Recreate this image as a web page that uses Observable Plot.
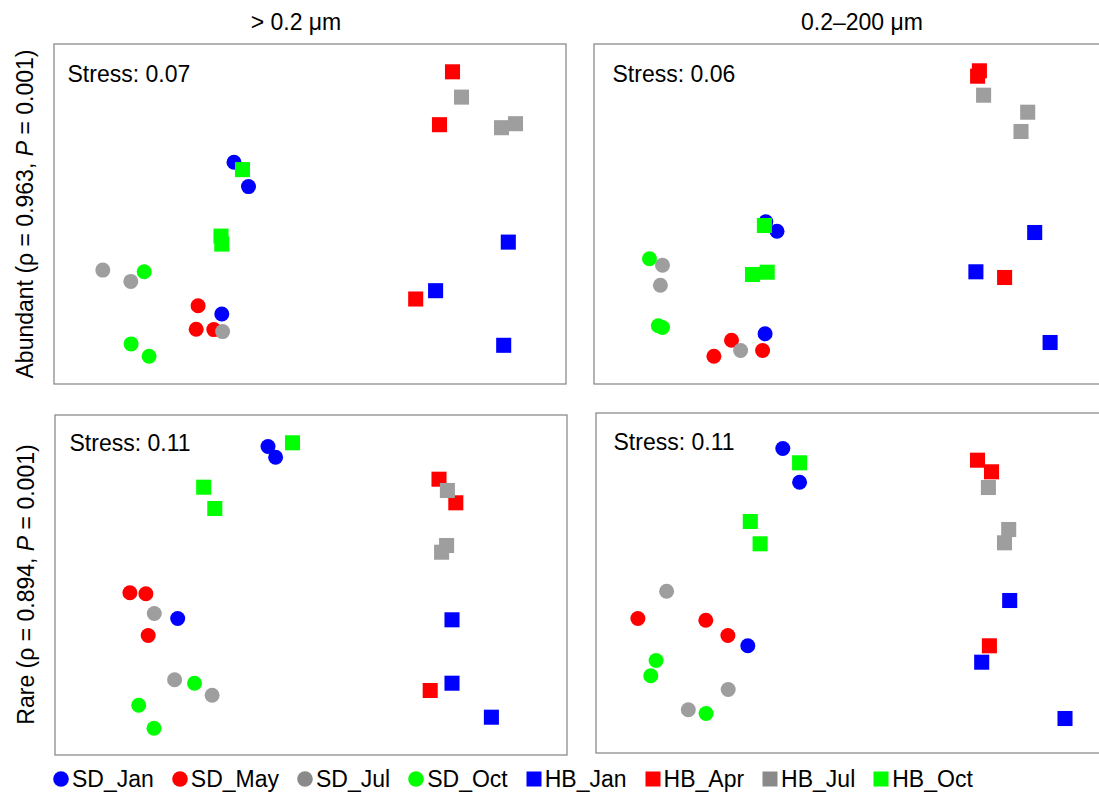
<!DOCTYPE html>
<html><head><meta charset="utf-8">
<script src="https://cdn.jsdelivr.net/npm/d3@7"></script>
<script src="https://cdn.jsdelivr.net/npm/@observablehq/plot@0.6"></script>
<style>
html,body{margin:0;padding:0;background:#fff;overflow:hidden}
#root{position:relative;width:1099px;height:794px;overflow:hidden;font-family:Arial,"Liberation Sans",sans-serif;color:#000;background:#fff}
.panel{position:absolute;width:513px;height:341px}
.panel svg{display:block;overflow:visible;max-width:none !important;width:513px;height:341px}
#overlay{position:absolute;left:0;top:0}
#legend{position:absolute;left:53px;top:767px;display:flex;gap:18px;font-size:23px;line-height:24px;white-space:nowrap}
#legend .item{display:flex;align-items:center;gap:3px}
#legend svg{display:block}
</style></head><body><div id="root"></div>
<script>
// ---- data ----
const groups = ["SD_Jan","SD_May","SD_Jul","SD_Oct","HB_Jan","HB_Apr","HB_Jul","HB_Oct"];
const groupColors = ["#0000ff","#ff0000","#9e9e9e","#00ff00","#0000ff","#ff0000","#9e9e9e","#00ff00"];
const legendColors = ["#0000ff","#ff0000","#8a8a8a","#00ff00","#0000ff","#ff0000","#8a8a8a","#00ff00"];
const columnTitles = ["> 0.2 μm", "0.2–200 μm"];
const rowNames = ["Abundant", "Rare"];
const rowRho = ["0.963", "0.894"];
const rowP = ["0.001", "0.001"];
const stressValues = ["0.07", "0.06", "0.11", "0.11"];

// [group, NMDS1, NMDS2] (panel units)
const abundantFL = [
  ["SD_Jan",180.5,222.2],["SD_Jan",195,197.9],["SD_Jan",168.3,70.5],
  ["SD_May",144.6,78.8],["SD_May",142.7,55.2],["SD_May",160.3,54.9],
  ["SD_Jul",49.3,114.4],["SD_Jul",77.3,103.1],["SD_Jul",169.1,52.9],
  ["SD_Oct",90.7,112.8],["SD_Oct",77.6,40.6],["SD_Oct",95.6,28.3],
  ["HB_Jan",454.8,142.4],["HB_Jan",382.1,93.8],["HB_Jan",450.2,39.2],
  ["HB_Apr",399,312.7],["HB_Apr",386,259.8],["HB_Apr",362.2,85.5],
  ["HB_Jul",408,287.4],["HB_Jul",448,256.8],["HB_Jul",462,260.8],
  ["HB_Oct",189,214.9],["HB_Oct",167.5,148.4],["HB_Oct",168.3,140.4]
];
const abundantPA = [
  ["SD_Jan",172.3,162.7],["SD_Jan",183.5,153.3],["SD_Jan",171.6,50.7],
  ["SD_May",138,44.3],["SD_May",169.1,34],["SD_May",120.4,28.3],
  ["SD_Jul",69,119.3],["SD_Jul",66.9,99.3],["SD_Jul",147.1,34],
  ["SD_Oct",56,125.7],["SD_Oct",64.8,58.7],["SD_Oct",69,57],
  ["HB_Jan",441.2,152],["HB_Jan",382.4,112.7],["HB_Jan",456.6,42],
  ["HB_Apr",385.9,313.7],["HB_Apr",384.1,308.3],["HB_Apr",411.1,107],
  ["HB_Jul",390.1,289.3],["HB_Jul",434.2,272.3],["HB_Jul",427.5,253],
  ["HB_Oct",170.9,159],["HB_Oct",159,110],["HB_Oct",173.7,112.3]
];
const rareFL = [
  ["SD_Jan",213.5,309],["SD_Jan",221.1,298.3],["SD_Jan",123.2,137],
  ["SD_May",75.4,162.7],["SD_May",91.4,161.7],["SD_May",93.7,120],
  ["SD_Jul",99.8,142],["SD_Jul",120.1,75.7],["SD_Jul",157.6,60.3],
  ["SD_Oct",140,72.3],["SD_Oct",84.2,50.3],["SD_Oct",99.5,27.3],
  ["HB_Jan",397.5,135.7],["HB_Jan",397.5,72.3],["HB_Jan",436.9,38.3],
  ["HB_Apr",384.5,276.3],["HB_Apr",401.3,252.7],["HB_Apr",375.7,65],
  ["HB_Jul",392.9,265],["HB_Jul",392.1,210],["HB_Jul",387.1,203.3],
  ["HB_Oct",238,312.7],["HB_Oct",149.2,268.3],["HB_Oct",160.3,247]
];
const rarePA = [
  ["SD_Jan",187.3,305],["SD_Jan",204.1,271.3],["SD_Jan",152.3,107.7],
  ["SD_May",42.4,135],["SD_May",110.3,133.3],["SD_May",132.4,118],
  ["SD_Jul",71.1,162.3],["SD_Jul",132.7,64],["SD_Jul",92.8,43.7],
  ["SD_Oct",60.6,93],["SD_Oct",55.3,77.7],["SD_Oct",110.6,40],
  ["HB_Jan",414.2,153],["HB_Jan",386.2,91.3],["HB_Jan",469.5,35],
  ["HB_Apr",382,293.3],["HB_Apr",396,281.7],["HB_Apr",393.9,107.7],
  ["HB_Jul",392.9,266],["HB_Jul",413.2,224],["HB_Jul",409,210.7],
  ["HB_Oct",204.1,290.7],["HB_Oct",154.8,232],["HB_Oct",164.6,209.7]
];

// ---- layout ----
const FONT = 'Arial, "Liberation Sans", sans-serif';
const PW = 513, PH = 341;
const root = document.getElementById("root");

function makePanel(data, stress, left, top, textDx, textDy) {
  const sorted = data.slice().sort((a, b) => groups.indexOf(a[0]) - groups.indexOf(b[0]));
  const circles = sorted.filter(d => d[0].startsWith("SD"));
  const squares = sorted.filter(d => d[0].startsWith("HB"));
  const chart = Plot.plot({
    width: PW, height: PH, margin: 0,
    style: {fontFamily: FONT, background: "transparent", overflow: "visible", maxWidth: "none"},
    x: {domain: [0, PW], axis: null},
    y: {domain: [0, PH], axis: null},
    color: {domain: groups, range: groupColors},
    marks: [
      Plot.frame({stroke: "#8c8c8c", strokeWidth: 1.3, inset: 0.5}),
      Plot.dot(circles, {x: d => d[1], y: d => d[2], fill: d => d[0], r: 7.5, stroke: "none"}),
      Plot.dot(squares, {x: d => d[1], y: d => d[2], fill: d => d[0], symbol: "square", r: 8.5, stroke: "none"}),
      Plot.text([`Stress: ${stress}`], {text: d => d, frameAnchor: "top-left", textAnchor: "start", lineAnchor: "top", dx: textDx, dy: textDy, fontSize: 23, fill: "#000"})
    ]
  });
  const div = document.createElement("div");
  div.className = "panel";
  div.style.left = left + "px";
  div.style.top = top + "px";
  div.appendChild(chart);
  root.appendChild(div);
}

makePanel(abundantFL, stressValues[0], 52.5, 43, 14, 22);
makePanel(abundantPA, stressValues[1], 593, 43, 19, 22);
makePanel(rareFL, stressValues[2], 53.5, 414, 15, 20);
makePanel(rarePA, stressValues[3], 595, 412, 18, 21);

// headers & row labels
const ns = "http://www.w3.org/2000/svg";
const ov = document.createElementNS(ns, "svg");
ov.setAttribute("id", "overlay");
ov.setAttribute("width", 1099);
ov.setAttribute("height", 794);
ov.style.fontFamily = FONT;
const headerX = [296, 862];
columnTitles.forEach((t, i) => {
  const el = document.createElementNS(ns, "text");
  el.setAttribute("x", headerX[i]);
  el.setAttribute("y", 29.5);
  el.setAttribute("text-anchor", "middle");
  el.setAttribute("font-size", 23);
  el.textContent = t;
  ov.appendChild(el);
});
const rowCenter = [[33, 214], [34, 584.5]];
rowNames.forEach((name, i) => {
  const el = document.createElementNS(ns, "text");
  el.setAttribute("transform", `translate(${rowCenter[i][0]},${rowCenter[i][1]}) rotate(-90)`);
  el.setAttribute("text-anchor", "middle");
  el.setAttribute("font-size", 23);
  const a = document.createElementNS(ns, "tspan");
  a.textContent = `${name} (ρ = ${rowRho[i]}, `;
  const p = document.createElementNS(ns, "tspan");
  p.setAttribute("font-style", "italic");
  p.textContent = "P";
  const b = document.createElementNS(ns, "tspan");
  b.textContent = ` = ${rowP[i]})`;
  el.appendChild(a); el.appendChild(p); el.appendChild(b);
  ov.appendChild(el);
});
root.appendChild(ov);

// legend
const legend = document.createElement("div");
legend.id = "legend";
groups.forEach((g, i) => {
  const item = document.createElement("div");
  item.className = "item";
  const s = document.createElementNS(ns, "svg");
  s.setAttribute("width", 16); s.setAttribute("height", 16);
  let shape;
  if (g.startsWith("SD")) {
    shape = document.createElementNS(ns, "circle");
    shape.setAttribute("cx", 8); shape.setAttribute("cy", 8); shape.setAttribute("r", 7.8);
  } else {
    shape = document.createElementNS(ns, "rect");
    shape.setAttribute("x", 0.5); shape.setAttribute("y", 0.5); shape.setAttribute("width", 15); shape.setAttribute("height", 15);
  }
  shape.setAttribute("fill", legendColors[i]);
  s.appendChild(shape);
  const lab = document.createElement("span");
  lab.textContent = g;
  item.appendChild(s); item.appendChild(lab);
  legend.appendChild(item);
});
root.appendChild(legend);
</script>
</body></html>
